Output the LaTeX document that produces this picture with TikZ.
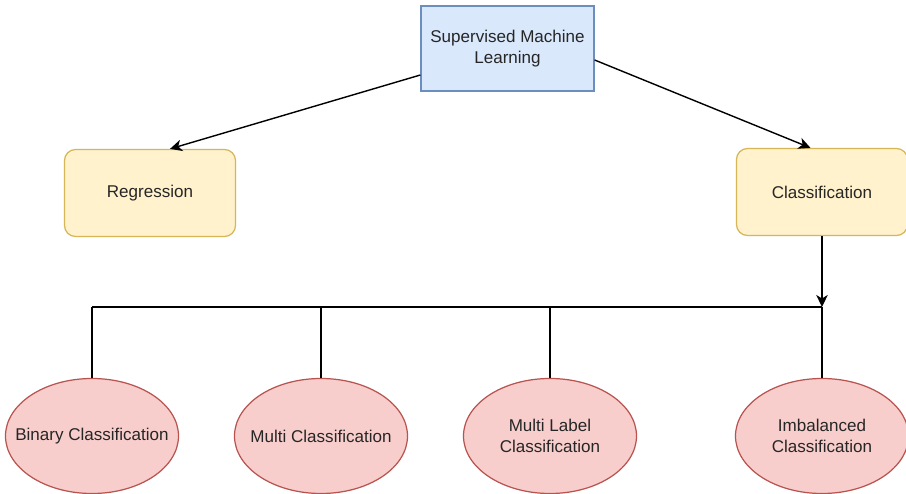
\documentclass[tikz,border=0pt]{standalone}
\usepackage{fontspec}
\setmainfont{Liberation Sans}
\usepackage{tikz}
\usetikzlibrary{arrows.meta,shapes.geometric}
\definecolor{BlueFill}{HTML}{DAE8FC}
\definecolor{BlueLine}{HTML}{6C8EBF}
\definecolor{SandFill}{HTML}{FFF2CC}
\definecolor{SandLine}{HTML}{D6B656}
\definecolor{RoseFill}{HTML}{F8CECC}
\definecolor{RoseLine}{HTML}{B85450}
\tikzset{every node/.style={font=\fontsize{9.7}{11.5}\selectfont, text=black!85, align=center, inner sep=2pt}}
\tikzset{topbox/.style={draw=BlueLine, fill=BlueFill, line width=0.7pt, minimum width=3.46cm, minimum height=1.7cm}}
\tikzset{midbox/.style={draw=SandLine, fill=SandFill, line width=0.7pt, rounded corners=0.22cm, minimum width=3.42cm, minimum height=1.74cm}}
\tikzset{leaf/.style={ellipse, draw=RoseLine, fill=RoseFill, line width=0.7pt, inner xsep=-1cm, inner ysep=0pt, minimum width=3.46cm, minimum height=2.3cm}}
\tikzset{link/.style={line width=0.8pt, black}}
\tikzset{tip/.style={-{Stealth[length=2.4mm,width=2.3mm,inset=0.7mm]}}}

\begin{document}
\begin{tikzpicture}
\useasboundingbox[fill=white] (0,0) rectangle (18.12,-9.88);

%%Boxes
\node[topbox] (sml) at (10.15,-0.97) {Supervised Machine\\Learning};
\node[midbox] (reg) at (3.0,-3.86) {Regression};
\node[midbox] (cls) at (16.44,-3.84) {Classification};

%%Leaves
\node[leaf] (e1) at (1.84,-8.72) {Binary Classification};
\node[leaf] (e2) at (6.42,-8.72) {Multi Classification};
\node[leaf] (e3) at (11.0,-8.72) {Multi Label\\Classification};
\node[leaf] (e4) at (16.44,-8.72) {Imbalanced\\Classification};

\coordinate (bus) at (16.44,-6.14);

\draw[link,tip] ([yshift=-0.53cm]sml.west) -- ([xshift=0.4cm]reg.north);
\draw[link,tip] ([yshift=-0.23cm]sml.east) -- ([xshift=-0.23cm]cls.north);
\draw[link,tip] (cls.south) -- (bus);
\draw[link] (e1.north |- bus) -- (bus);
\foreach \i in {1,...,4}{
\draw[link] (e\i.north) -- (e\i.north |- bus);
}
\end{tikzpicture}
\end{document}
